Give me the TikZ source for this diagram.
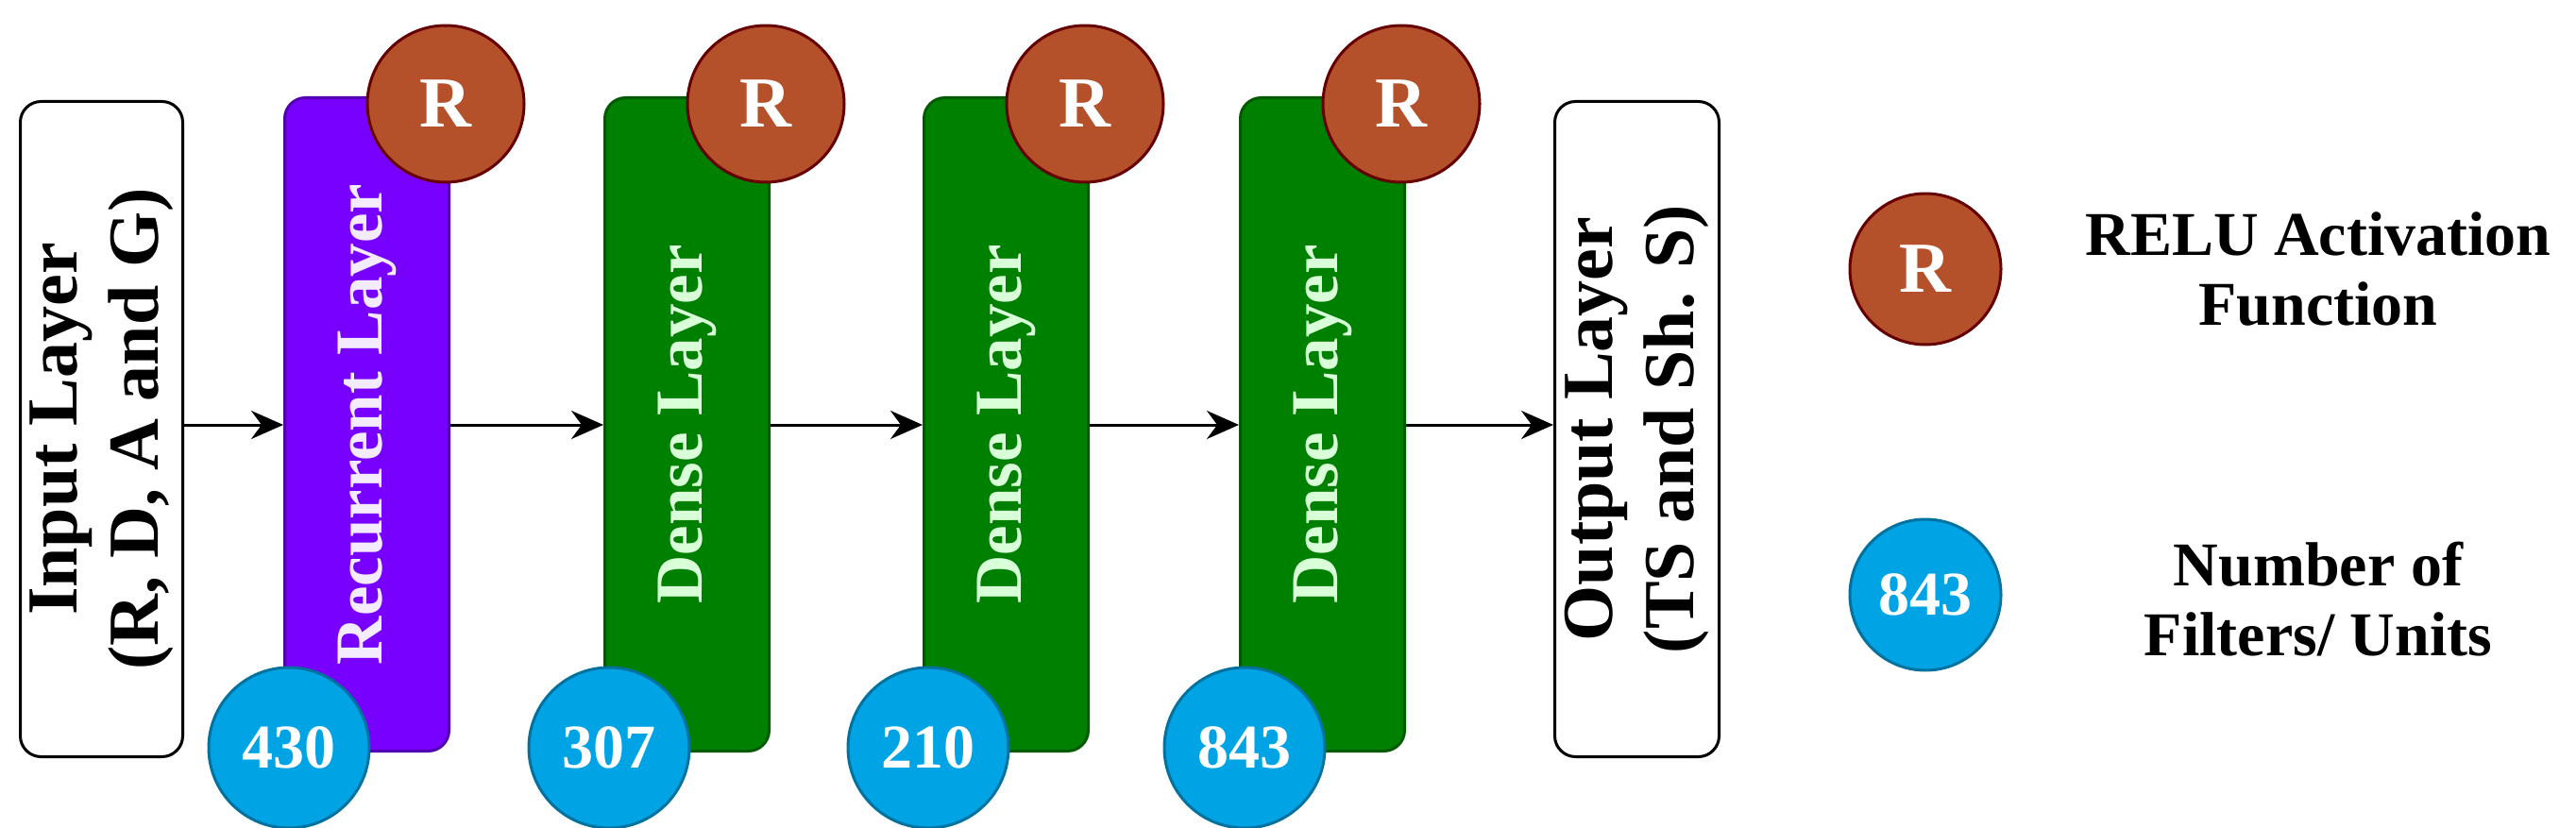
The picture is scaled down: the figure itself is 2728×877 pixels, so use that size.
\documentclass[tikz,border=0pt]{standalone}
\usepackage{fontspec}
\setmainfont{Liberation Serif}
\usetikzlibrary{arrows.meta}
\begin{document}
\begin{tikzpicture}[x=1pt,y=-1pt,
 lay/.style={draw,line width=3pt,rounded corners=22pt,minimum width=174pt,minimum height=692pt,anchor=north west,inner sep=0pt},
 rc/.style={circle,draw=red!40!black,fill=rbrown,line width=3pt,minimum size=166pt,inner sep=0pt,text=white,font=\fontsize{76}{80}\selectfont\bfseries},
 bc/.style={circle,draw=bblue!70!black,fill=bblue,line width=3pt,minimum size=170pt,inner sep=0pt,text=white,font=\fontsize{66}{70}\selectfont\bfseries},
 lbl/.style={font=\fontsize{76}{86}\selectfont\bfseries,align=center,rotate=90},
 lbl2/.style={font=\fontsize{71}{80}\selectfont\bfseries,align=center,rotate=90},
 arr/.style={-{Stealth[length=34pt,width=30pt]},line width=3pt}]
\definecolor{rbrown}{HTML}{B5512A}
\definecolor{bblue}{HTML}{00A3E3}
\definecolor{rpurp}{HTML}{7700FF}
\definecolor{dgreen}{HTML}{008000}
\useasboundingbox (0,0) rectangle (2728,877);
\node[lay,fill=white,draw=black,minimum height=694pt,minimum width=172pt] (in) at (20,106) {};
\node[lbl] at (in.center) {Input Layer\\(R, D, A and G)};
\node[lay,fill=rpurp,draw=rpurp!70!black] (rec) at (300,102) {};
\node[lbl2,text=white!92!rpurp] at (rec.center) {Recurrent Layer};
\node[lay,fill=dgreen,draw=dgreen!70!black] (d1) at (639,102) {};
\node[lbl2,text=white!85!green] at (d1.center) {Dense Layer};
\node[lay,fill=dgreen,draw=dgreen!70!black] (d2) at (977,102) {};
\node[lbl2,text=white!85!green] at (d2.center) {Dense Layer};
\node[lay,fill=dgreen,draw=dgreen!70!black] (d3) at (1312,102) {};
\node[lbl2,text=white!85!green] at (d3.center) {Dense Layer};
\node[lay,fill=white,draw=black,minimum height=694pt,minimum width=174pt] (out) at (1645,106) {};
\node[lbl] at (out.center) {Output Layer\\(TS and Sh. S)};
\node[rc] (r1) at (472,110) {R};
\node[rc] (r2) at (811,110) {R};
\node[rc] (r3) at (1149,110) {R};
\node[rc] (r4) at (1484,110) {R};
\node[bc] (b1) at (306,792) {430};
\node[bc] (b2) at (645,792) {307};
\node[bc] (b3) at (983,792) {210};
\node[bc] (b4) at (1318,792) {843};
\draw[arr] (in.east |- 0,450) -- (rec.west |- 0,450);
\draw[arr] (rec.east |- 0,450) -- (d1.west |- 0,450);
\draw[arr] (d1.east |- 0,450) -- (d2.west |- 0,450);
\draw[arr] (d2.east |- 0,450) -- (d3.west |- 0,450);
\draw[arr] (d3.east |- 0,450) -- (out.west |- 0,450);
\node[rc,minimum size=160pt] (lr) at (2039,285) {R};
\node[bc,minimum size=160pt] (lb) at (2039,630) {843};
\node[font=\fontsize{66}{74}\selectfont\bfseries,align=center] (lt1) at (2455,285) {RELU Activation\\Function};
\node[font=\fontsize{66}{74}\selectfont\bfseries,align=center] (lt2) at (2455,635) {Number of\\Filters/ Units};
\end{tikzpicture}
\end{document}
